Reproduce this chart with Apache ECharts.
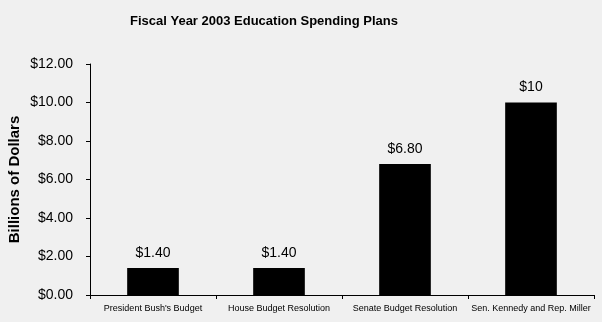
<!DOCTYPE html>
<html>
<head>
<meta charset="utf-8">
<script src="https://cdn.jsdelivr.net/npm/echarts@6/dist/echarts.min.js"></script>
<style>
  html, body { margin: 0; padding: 0; background: #f0f0f0; }
  #chart { width: 602px; height: 322px; }
</style>
</head>
<body>
<div id="chart"></div>
<script>
// Spending plans, billions of dollars
const categories = [
  "President Bush's Budget",
  "House Budget Resolution",
  "Senate Budget Resolution",
  "Sen. Kennedy and Rep. Miller"
];
const spending = [1.4, 1.4, 6.8, 10];
const yTicks = [0, 2, 4, 6, 8, 10, 12];

const font = '"Liberation Sans", Arial, sans-serif';
const chart = echarts.init(document.getElementById('chart'));

chart.setOption({
  backgroundColor: '#f0f0f0',
  animation: false,
  title: {
    text: 'Fiscal Year 2003 Education Spending Plans',
    left: 259,
    textAlign: 'center',
    top: 10,
    textStyle: { fontFamily: font, fontSize: 13, fontWeight: 'bold', color: '#000' }
  },
  grid: { left: 90, right: 8, top: 64, bottom: 27, containLabel: false, outerBoundsMode: 'none' },
  xAxis: {
    type: 'category',
    data: categories,
    axisLine: { lineStyle: { color: '#000', width: 1 } },
    axisTick: { show: true, alignWithLabel: false, length: 4, lineStyle: { color: '#000' } },
    axisLabel: { fontFamily: font, fontSize: 9, color: '#000', margin: 9, interval: 0 }
  },
  yAxis: {
    type: 'value',
    min: yTicks[0],
    max: yTicks[yTicks.length - 1],
    interval: 2,
    name: 'Billions of Dollars',
    nameLocation: 'middle',
    nameGap: 68,
    nameMoveOverlap: false,
    nameTextStyle: { fontFamily: font, fontSize: 15, fontWeight: 'bold', color: '#000' },
    axisLine: { show: true, lineStyle: { color: '#000', width: 1 } },
    axisTick: { show: true, length: 4, lineStyle: { color: '#000' } },
    splitLine: { show: false },
    axisLabel: {
      fontFamily: font, fontSize: 14, color: '#000', margin: 17,
      formatter: v => '$' + v.toFixed(2)
    }
  },
  series: [{
    type: 'bar',
    data: spending,
    barWidth: '41%',
    itemStyle: { color: '#000' },
    label: {
      show: true,
      position: 'top',
      distance: 8,
      fontFamily: font,
      fontSize: 14,
      color: '#000',
      formatter: p => '$' + (Number.isInteger(p.value) ? p.value : p.value.toFixed(2))
    }
  }]
});
</script>
</body>
</html>
